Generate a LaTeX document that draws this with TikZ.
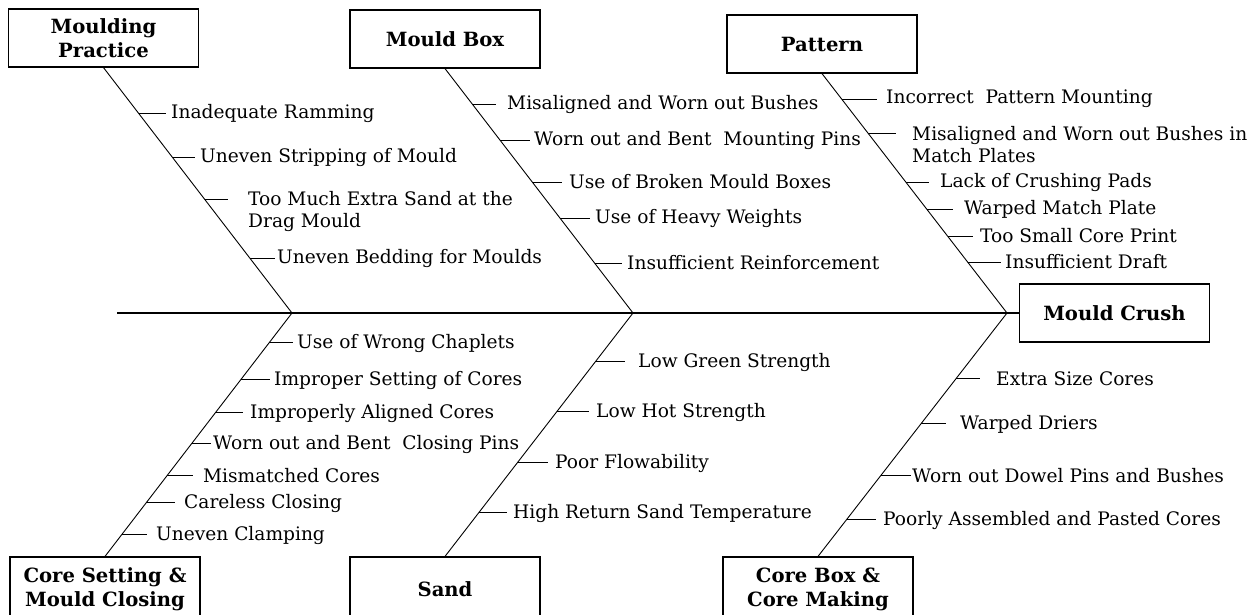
\documentclass[tikz,border=0pt]{standalone}
\usepackage{fontspec}
\setmainfont{DejaVu Serif}
\usetikzlibrary{calc}

\tikzset{
  catbox/.style={draw, line width=1.2pt, minimum width=190pt, minimum height=58pt,
    inner sep=0pt, align=center, font=\bfseries\fontsize{19.6}{24}\selectfont},
  cause/.style={anchor=west, inner sep=0pt, align=left, font=\fontsize{18.6}{22}\selectfont},
  spine/.style={line width=1.2pt},
  bone/.style={line width=0.9pt},
  causetick/.style={line width=0.9pt, shorten >=#1},
  causetick/.default=5pt,
}

\begin{document}
\begin{tikzpicture}[x=1pt, y=-1pt]
\useasboundingbox (0,0) rectangle (1254,614);

% category boxes
\node[catbox] (mp) at (103.5,38) {Moulding\\Practice};
\node[catbox] (mb) at (445,39) {Mould Box};
\node[catbox] (pt) at (822,44) {Pattern};
\node[catbox] (mc) at (1114.5,313) {Mould Crush};
\node[catbox, minimum height=64pt] (cs) at (105,589) {Core Setting \&\\Mould Closing};
\node[catbox, minimum height=64pt] (sd) at (445,589) {Sand};
\node[catbox, minimum height=64pt] (cb) at (818,589) {Core Box \&\\Core Making};

% spine and bones
\coordinate (tail) at (117,313);
\coordinate (j1) at (292,313);
\coordinate (j2) at (633,313);
\coordinate (j3) at (1007,313);
\draw[spine] (tail) -- (mc.west);
\draw[bone] (mp.south) -- (j1) -- (cs.north);
\draw[bone] (mb.south) -- (j2) -- (sd.north);
\draw[bone] (pt.south) -- (j3) -- (cb.north);

% Moulding Practice
\coordinate (mpb1) at ($(mp.south)!{46/246}!(j1)$);
\coordinate (mpb2) at ($(mp.south)!{90/246}!(j1)$);
\coordinate (mpb3) at ($(mp.south)!{132/246}!(j1)$);
\coordinate (mpb4) at ($(mp.south)!{191/246}!(j1)$);
\node[cause] (mp1) at (171,113) {Inadequate Ramming};
\node[cause] (mp2) at (200,157) {Uneven Stripping of Mould};
\node[cause] (mp3) at (248,211) {Too Much Extra Sand at the\\Drag Mould};
\node[cause] (mp4) at (277,258) {Uneven Bedding for Moulds};
\draw[causetick] (mpb1) -- (mpb1 -| mp1.west);
\draw[causetick] (mpb2) -- (mpb2 -| mp2.west);
\draw[causetick=20pt] (mpb3) -- (mpb3 -| mp3.west);
\draw[causetick=2pt] (mpb4) -- (mpb4 -| mp4.west);

% Mould Box
\coordinate (mbb1) at ($(mb.south)!{36/245}!(j2)$);
\coordinate (mbb2) at ($(mb.south)!{72/245}!(j2)$);
\coordinate (mbb3) at ($(mb.south)!{114/245}!(j2)$);
\coordinate (mbb4) at ($(mb.south)!{150/245}!(j2)$);
\coordinate (mbb5) at ($(mb.south)!{195/245}!(j2)$);
\node[cause] (mb1) at (507,104) {Misaligned and Worn out Bushes};
\node[cause] (mb2) at (534,140) {Worn out and Bent~ Mounting Pins};
\node[cause] (mb3) at (569,182) {Use of Broken Mould Boxes};
\node[cause] (mb4) at (595,218) {Use of Heavy Weights};
\node[cause] (mb5) at (627,263) {Insufficient Reinforcement};
\draw[causetick=11pt] (mbb1) -- (mbb1 -| mb1.west);
\draw[causetick=4pt] (mbb2) -- (mbb2 -| mb2.west);
\draw[causetick=7pt] (mbb3) -- (mbb3 -| mb3.west);
\draw[causetick] (mbb4) -- (mbb4 -| mb4.west);
\draw[causetick] (mbb5) -- (mbb5 -| mb5.west);

% Pattern
\coordinate (ptb1) at ($(pt.south)!{26/240}!(j3)$);
\coordinate (ptb2) at ($(pt.south)!{60/240}!(j3)$);
\coordinate (ptb3) at ($(pt.south)!{109/240}!(j3)$);
\coordinate (ptb4) at ($(pt.south)!{136/240}!(j3)$);
\coordinate (ptb5) at ($(pt.south)!{163/240}!(j3)$);
\coordinate (ptb6) at ($(pt.south)!{189/240}!(j3)$);
\node[cause] (pt1) at (886,99) {Incorrect~ Pattern Mounting};
\node[cause] (pt2) at (912,145) {Misaligned and Worn out Bushes in\\Match Plates};
\node[cause] (pt3) at (940,182) {Lack of Crushing Pads};
\node[cause] (pt4) at (964,209) {Warped Match Plate};
\node[cause] (pt5) at (980,236) {Too Small Core Print};
\node[cause] (pt6) at (1005,262) {Insufficient Draft};
\draw[causetick=9pt] (ptb1) -- (ptb1 -| pt1.west);
\draw[causetick=16pt] (ptb2) -- (ptb2 -| pt2.west);
\draw[causetick=11pt] (ptb3) -- (ptb3 -| pt3.west);
\draw[causetick=11pt] (ptb4) -- (ptb4 -| pt4.west);
\draw[causetick=7pt] (ptb5) -- (ptb5 -| pt5.west);
\draw[causetick=4pt] (ptb6) -- (ptb6 -| pt6.west);

% Core Setting & Mould Closing
\coordinate (csb1) at ($(cs.north)!{214/244}!(j1)$);
\coordinate (csb2) at ($(cs.north)!{177/244}!(j1)$);
\coordinate (csb3) at ($(cs.north)!{144/244}!(j1)$);
\coordinate (csb4) at ($(cs.north)!{113/244}!(j1)$);
\coordinate (csb5) at ($(cs.north)!{81/244}!(j1)$);
\coordinate (csb6) at ($(cs.north)!{54/244}!(j1)$);
\coordinate (csb7) at ($(cs.north)!{22/244}!(j1)$);
\node[cause] (cs1) at (297,343) {Use of Wrong Chaplets};
\node[cause] (cs2) at (274,380) {Improper Setting of Cores};
\node[cause] (cs3) at (250,413) {Improperly Aligned Cores};
\node[cause] (cs4) at (213,444) {Worn out and Bent~ Closing Pins};
\node[cause] (cs5) at (203,476) {Mismatched Cores};
\node[cause] (cs6) at (184,503) {Careless Closing};
\node[cause] (cs7) at (156,535) {Uneven Clamping};
\draw[causetick=4pt] (csb1) -- (csb1 -| cs1.west);
\draw[causetick=4pt] (csb2) -- (csb2 -| cs2.west);
\draw[causetick=7pt] (csb3) -- (csb3 -| cs3.west);
\draw[causetick=2pt] (csb4) -- (csb4 -| cs4.west);
\draw[causetick=10pt] (csb5) -- (csb5 -| cs5.west);
\draw[causetick=9pt] (csb6) -- (csb6 -| cs6.west);
\draw[causetick=9pt] (csb7) -- (csb7 -| cs7.west);

% Sand
\coordinate (sdb1) at ($(sd.north)!{195/244}!(j2)$);
\coordinate (sdb2) at ($(sd.north)!{145/244}!(j2)$);
\coordinate (sdb3) at ($(sd.north)!{94/244}!(j2)$);
\coordinate (sdb4) at ($(sd.north)!{44/244}!(j2)$);
\node[cause] (sd1) at (638,362) {Low Green Strength};
\node[cause] (sd2) at (596,412) {Low Hot Strength};
\node[cause] (sd3) at (555,463) {Poor Flowability};
\node[cause] (sd4) at (513,513) {High Return Sand Temperature};
\draw[causetick=13pt] (sdb1) -- (sdb1 -| sd1.west);
\draw[causetick=7pt] (sdb2) -- (sdb2 -| sd2.west);
\draw[causetick=7pt] (sdb3) -- (sdb3 -| sd3.west);
\draw[causetick=6pt] (sdb4) -- (sdb4 -| sd4.west);

% Core Box & Core Making
\coordinate (cbb1) at ($(cb.north)!{178/244}!(j3)$);
\coordinate (cbb2) at ($(cb.north)!{133/244}!(j3)$);
\coordinate (cbb3) at ($(cb.north)!{81/244}!(j3)$);
\coordinate (cbb4) at ($(cb.north)!{37/244}!(j3)$);
\node[cause] (cb1) at (996,379) {Extra Size Cores};
\node[cause] (cb2) at (960,424) {Warped Driers};
\node[cause] (cb3) at (912,476) {Worn out Dowel Pins and Bushes};
\node[cause] (cb4) at (883,520) {Poorly Assembled and Pasted Cores};
\draw[causetick=16pt] (cbb1) -- (cbb1 -| cb1.west);
\draw[causetick=14pt] (cbb2) -- (cbb2 -| cb2.west);
\draw[causetick=1pt] (cbb3) -- (cbb3 -| cb3.west);
\draw[causetick=7pt] (cbb4) -- (cbb4 -| cb4.west);
\end{tikzpicture}
\end{document}
